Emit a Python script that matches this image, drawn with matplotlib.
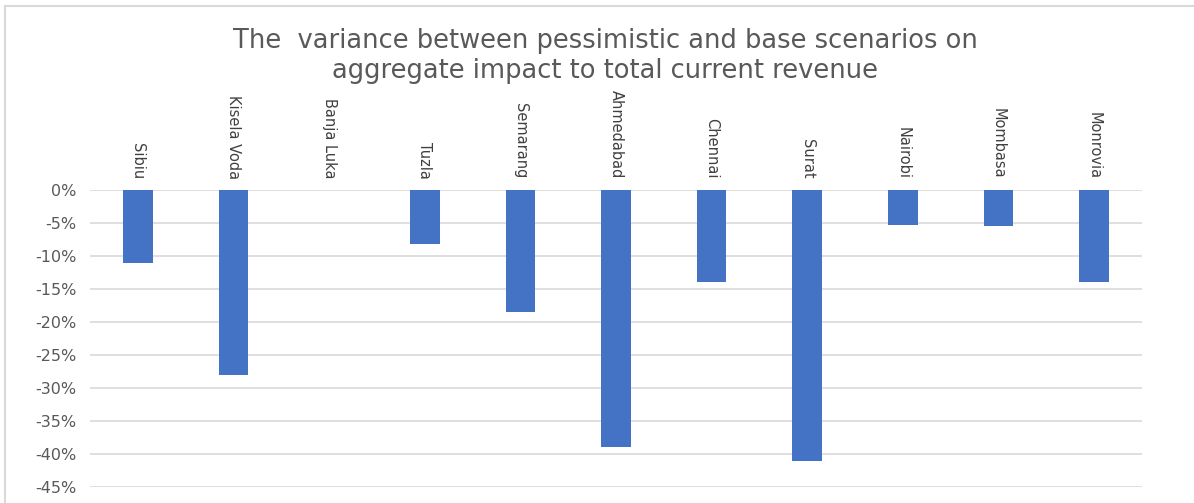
import matplotlib
matplotlib.use("Agg")
import matplotlib.pyplot as plt
from matplotlib.ticker import FuncFormatter, MultipleLocator
from matplotlib.lines import Line2D
import numpy as np

cities = ["Sibiu", "Kisela Voda", "Banja Luka", "Tuzla", "Semarang", "Ahmedabad",
          "Chennai", "Surat", "Nairobi", "Mombasa", "Monrovia"]
variance = [-0.110, -0.280, 0.0, -0.082, -0.185, -0.390, -0.139, -0.410, -0.053, -0.055, -0.139]

title = "The  variance between pessimistic and base scenarios on\naggregate impact to total current revenue"

fig = plt.figure(figsize=(11.94, 5.03), dpi=100)
ax = fig.add_axes([0.0754, 0.0318, 0.881, 0.5905])

ind = np.arange(len(cities))
ax.bar(ind, variance, width=0.31, color="#4472C4", zorder=3)

ax.set_xlim(-0.5, len(cities) - 0.5)
ax.set_ylim(-0.45, 0)
ax.yaxis.set_major_locator(MultipleLocator(0.05))
ax.yaxis.set_major_formatter(FuncFormatter(lambda v, p: "{:.0f}%".format(round(v * 100))))
ax.grid(axis="y", color="#d9d9d9", linewidth=1.2, zorder=0)
for s in ax.spines.values():
    s.set_visible(False)
ax.tick_params(axis="y", length=0, labelsize=11.5, labelcolor="#595959", pad=10)

ax.xaxis.tick_top()
ax.set_xticks(ind)
ax.set_xticklabels(cities, rotation=-90, fontsize=10.5, color="#404040")
ax.tick_params(axis="x", length=0, pad=8)

fig.text(0.507, 0.888, title, ha="center", va="center", fontsize=18.5, color="#595959",
         linespacing=1.2)

# chart frame (only top and left edges are visible in the crop)
fig.add_artist(Line2D([0.004, 0.004], [0.0, 0.988], transform=fig.transFigure,
                      color="#d9d9d9", linewidth=1.5))
fig.add_artist(Line2D([0.004, 1.0], [0.988, 0.988], transform=fig.transFigure,
                      color="#d9d9d9", linewidth=1.5))

fig.savefig("out.png", dpi=100)
